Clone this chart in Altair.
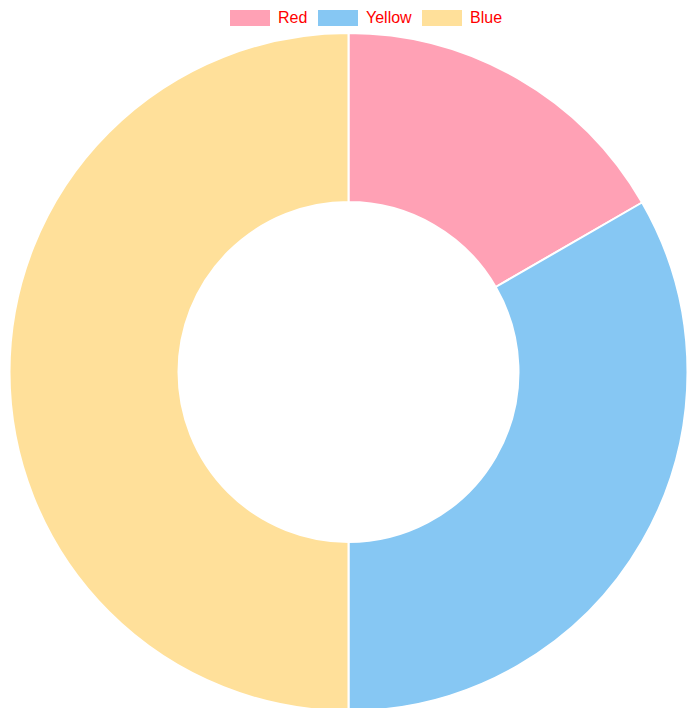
import altair as alt
import pandas as pd

labels = ["Red", "Yellow", "Blue"]
values = [10, 20, 30]
colors = ["#FFA1B5", "#86C7F3", "#FFE09A"]

df = pd.DataFrame({"label": labels, "value": values, "order": list(range(len(labels)))})

box = "M-1,-0.4L1,-0.4L1,0.4L-1,0.4Z"

chart = alt.Chart(df).mark_arc(
    outerRadius=339, innerRadius=170, stroke="white", strokeWidth=2
).encode(
    theta=alt.Theta("value:Q", stack=True),
    order=alt.Order("order:Q"),
    color=alt.Color(
        "label:N",
        sort=labels,
        scale=alt.Scale(domain=labels, range=colors),
        legend=alt.Legend(
            title=None,
            orient="none",
            direction="horizontal",
            legendX=222,
            legendY=-10,
            symbolType=box,
            symbolSize=1600,
            symbolStrokeWidth=0,
            symbolOpacity=1,
            labelFontSize=16,
            labelFont="Helvetica Neue, Helvetica, Arial, sans-serif",
            labelColor="red",
            labelOffset=8,
            columnPadding=10,
            padding=0,
        ),
    ),
    x=alt.value(340.5),
    y=alt.value(364),
).properties(
    width=681, height=700, autosize=alt.AutoSizeParams(type="none"), padding=0
).configure_view(stroke=None)

chart.save("out.html", embed_options={"renderer": "svg", "actions": False})
